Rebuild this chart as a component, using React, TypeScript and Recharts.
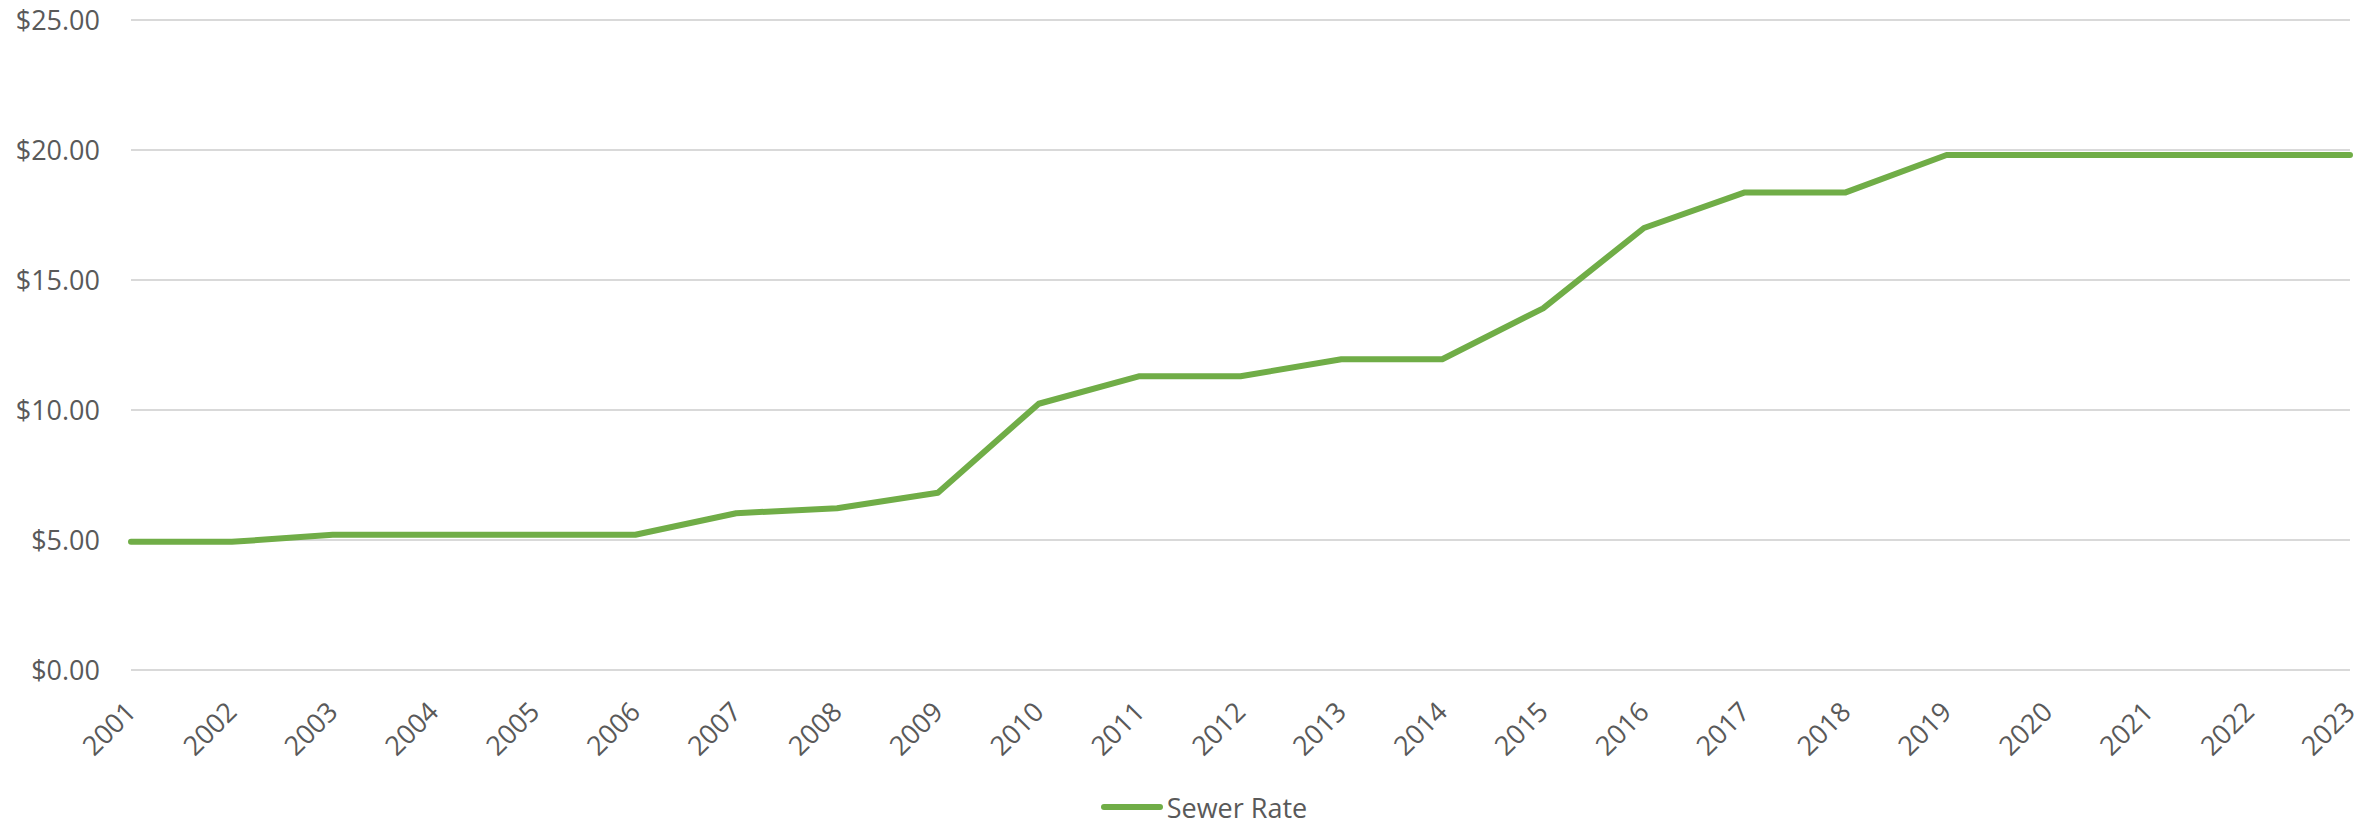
import { LineChart, Line, XAxis, YAxis, CartesianGrid, Legend } from 'recharts';

const years = [
  '2001', '2002', '2003', '2004', '2005', '2006', '2007', '2008', '2009', '2010', '2011', '2012',
  '2013', '2014', '2015', '2016', '2017', '2018', '2019', '2020', '2021', '2022', '2023',
];

const sewerRate = [
  4.93, 4.93, 5.2, 5.2, 5.2, 5.2, 6.03, 6.22, 6.82, 10.24, 11.3, 11.3,
  11.95, 11.95, 13.91, 17.0, 18.37, 18.37, 19.81, 19.81, 19.81, 19.81, 19.81,
];

const yTicks = [0, 5, 10, 15, 20, 25];

const data = years.map((year, i) => ({ year, rate: sewerRate[i] }));

const FONT = '"Open Sans", "Noto Sans", sans-serif';
const TEXT = '#595959';
const GREEN = '#70ad47';

// Excel-style diagonal year labels, right end sits on the tick
function YearTick(props: any) {
  const { x, y, payload } = props;
  return (
    <g transform={`translate(${x},${y + 37})`}>
      <text
        textAnchor="end"
        dy="0.35em"
        transform="rotate(-45)"
        fill={TEXT}
        fontSize={27}
        fontFamily={FONT}
      >
        {payload.value}
      </text>
    </g>
  );
}

function renderLegend() {
  return (
    <div
      style={{
        display: 'flex',
        justifyContent: 'center',
        alignItems: 'center',
        paddingLeft: 28,
        height: 36,
        fontFamily: FONT,
        fontSize: 27,
        color: TEXT,
      }}
    >
      <svg width={62} height={10} style={{ marginRight: 4 }}>
        <line x1={3} y1={5} x2={59} y2={5} stroke={GREEN} strokeWidth={6} strokeLinecap="round" />
      </svg>
      <span>Sewer Rate</span>
    </div>
  );
}

export default function App() {
  // pinned to the page corner so the chart uses the whole 2380x824 page
  return (
    <div style={{ position: 'absolute', left: 0, top: 0, width: 2380, height: 824 }}>
      <LineChart
        width={2380}
        height={824}
        data={data}
        margin={{ top: 20, right: 30, left: 0, bottom: 18 }}
      >
        <CartesianGrid horizontal vertical={false} stroke="#d9d9d9" strokeWidth={2} />
        <XAxis
          dataKey="year"
          interval={0}
          axisLine={false}
          tickLine={false}
          tickSize={0}
          tickMargin={0}
          height={100}
          tick={<YearTick />}
        />
        <YAxis
          domain={[0, 25]}
          ticks={yTicks}
          width={131}
          axisLine={false}
          tickLine={false}
          tickSize={0}
          tickMargin={31}
          tickFormatter={(v: number) => `$${v.toFixed(2)}`}
          tick={{ fill: TEXT, fontSize: 27, fontFamily: FONT }}
        />
        <Legend
          verticalAlign="bottom"
          content={renderLegend}
          wrapperStyle={{ left: 0, width: 2380, top: 789 }}
        />
        <Line
          type="linear"
          dataKey="rate"
          name="Sewer Rate"
          stroke={GREEN}
          strokeWidth={6}
          strokeLinecap="round"
          strokeLinejoin="round"
          dot={false}
          activeDot={false}
          isAnimationActive={false}
        />
      </LineChart>
    </div>
  );
}
